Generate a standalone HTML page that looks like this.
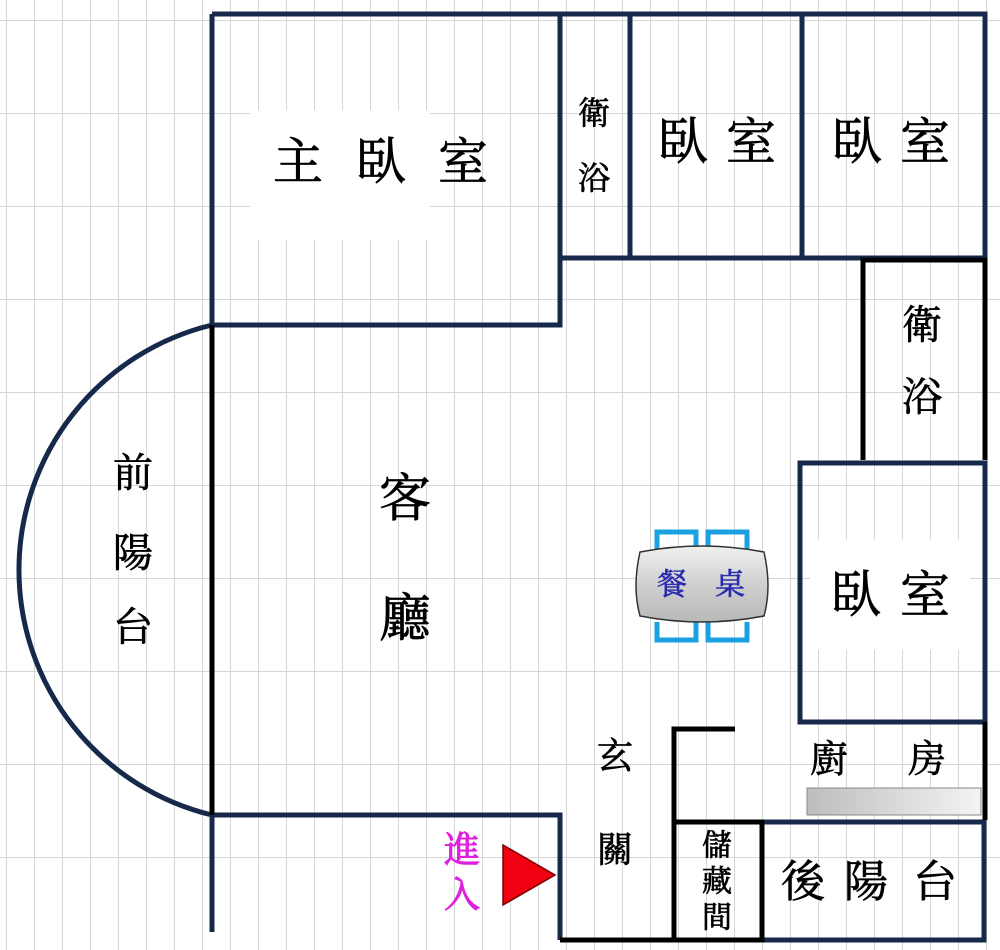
<!DOCTYPE html>
<html><head><meta charset="utf-8"><style>
html,body{margin:0;padding:0;background:#fff}
svg{display:block}
text{font-family:"Liberation Serif","Noto Serif CJK SC","Noto Sans CJK TC",serif;text-anchor:middle;dominant-baseline:central}
</style></head><body>
<svg width="1000" height="950" viewBox="0 0 1000 950" xmlns="http://www.w3.org/2000/svg">
<defs>
<pattern id="g" width="28" height="93" patternUnits="userSpaceOnUse" x="6" y="20">
<path d="M0 0V93M0 0H28" stroke="#d6d6d6" stroke-width="2" fill="none"/>
</pattern>
<linearGradient id="ct" x1="0" x2="1"><stop offset="0" stop-color="#bdbdbd"/><stop offset="1" stop-color="#f4f4f4"/></linearGradient>
<linearGradient id="tb" x1="0" y1="0" x2="0" y2="1"><stop offset="0" stop-color="#f0f0f0"/><stop offset="0.5" stop-color="#d0d0d0"/><stop offset="1" stop-color="#b8b8b8"/></linearGradient>
</defs>
<rect width="1000" height="950" fill="url(#g)"/>
<rect x="250" y="110" width="180" height="130" fill="#fff"/>
<rect x="810" y="540" width="160" height="110" fill="#fff"/>
<path d="M212 325 A252 252 0 0 0 212 815" fill="none" stroke="#17294a" stroke-width="5"/>
<g fill="none" stroke="#17294a" stroke-width="5" stroke-linejoin="miter">
<path d="M212 14H985V258H560"/>
<path d="M212 14V325H560V14"/>
<path d="M630 14V258M802 14V258"/>
<rect x="800" y="463" width="185" height="259"/>
<path d="M212 815H560V940M212 815V932"/>
<rect x="762" y="822" width="222" height="118"/>
</g>
<g fill="none" stroke="#000" stroke-width="5">
<path d="M863 460V260H985V460"/>
<path d="M212 325V815"/>
<path d="M985 722V820"/>
<path d="M735 729H674V942"/>
<rect x="674" y="822" width="88" height="118"/>
<path d="M560 940H674"/>
</g>
<rect x="807" y="788" width="174" height="27" fill="url(#ct)" stroke="#888" stroke-width="1"/>
<g fill="none" stroke="#1ba0e2" stroke-width="5">
<path d="M657 552V532H696V552M708 552V532H747V552"/>
<path d="M657 622V640H696V622M708 622V640H747V622"/>
</g>
<path d="M640 552 Q702 540 764 552 Q772 587 764 616 Q702 628 640 616 Q632 587 640 552Z" fill="url(#tb)" stroke="#333" stroke-width="1.5"/>
<g stroke="#2b2bb0" stroke-width="0.6">
<text x="672" y="585" font-size="30" fill="#2b2bb0">餐</text>
<text x="730" y="585" font-size="30" fill="#2b2bb0">桌</text>
</g>
<g fill="#000" stroke="#000" stroke-width="0.7">
<text x="298" y="162" font-size="50">主</text><text x="381" y="162" font-size="50">臥</text><text x="463" y="162" font-size="50">室</text>
<text x="594" y="113" font-size="32">衛</text><text x="594" y="178" font-size="32">浴</text>
<text x="683" y="142" font-size="50">臥</text><text x="751" y="142" font-size="50">室</text>
<text x="857" y="142" font-size="50">臥</text><text x="925" y="142" font-size="50">室</text>
<text x="922" y="325" font-size="40">衛</text><text x="922" y="397" font-size="40">浴</text>
<text x="133" y="473" font-size="40">前</text><text x="133" y="553" font-size="40">陽</text><text x="133" y="627" font-size="40">台</text>
<text x="405" y="500" font-size="52">客</text><text x="405" y="620" font-size="52">廳</text>
<text x="856" y="595" font-size="50">臥</text><text x="925" y="595" font-size="50">室</text>
<text x="615" y="756" font-size="36">玄</text><text x="615" y="850" font-size="36">關</text>
<text x="829" y="760" font-size="38">廚</text><text x="927" y="760" font-size="38">房</text>
<text x="717" y="846" font-size="30">儲</text><text x="717" y="882" font-size="30">藏</text><text x="717" y="918" font-size="30">間</text>
<text x="803" y="882" font-size="44">後</text><text x="866" y="882" font-size="44">陽</text><text x="935" y="882" font-size="44">台</text>
</g>
<g fill="#e020e0" stroke="#e020e0" stroke-width="1">
<text x="462" y="850" font-size="36">進</text>
<text x="462" y="895" font-size="36">入</text>
</g>
<path d="M503 845L503 905L555 875Z" fill="#f00010" stroke="#700" stroke-width="1.5"/>
</svg>
</body></html>
